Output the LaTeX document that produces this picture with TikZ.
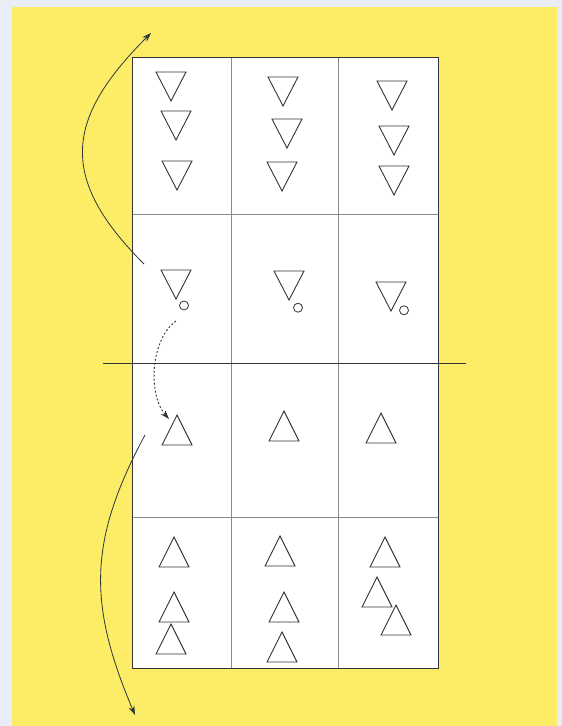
\documentclass[tikz,border=0pt]{standalone}
\usepackage{xcolor}
\usepackage{tikz}
\usetikzlibrary{arrows.meta,calc}
\definecolor{pagegray}{HTML}{E8EDF6}
\definecolor{courtyellow}{HTML}{FCEC66}
\definecolor{linegray}{HTML}{8A8A8A}
\definecolor{darkgray}{HTML}{30343B}
\tikzset{
  field/.style={draw=darkgray,line width=1pt,fill=white},
  gridline/.style={linegray,line width=0.9pt},
  midline/.style={darkgray,line width=1pt},
  player/.style={draw=darkgray,line width=0.9pt,line join=miter},
  ball/.style={circle,draw=darkgray,line width=0.8pt,minimum size=9pt,inner sep=0pt},
  runpath/.style={-{Stealth[length=9pt,width=6pt]},darkgray,line width=0.8pt},
  passpath/.style={-{Stealth[length=9pt,width=6pt]},darkgray,line width=0.9pt,dash pattern=on 2pt off 2pt}
}

\begin{document}
\begin{tikzpicture}[x=1pt,y=-1pt]
  \useasboundingbox (0,0) rectangle (562,726);
  \fill[pagegray] (0,0) rectangle (562,726);
  \fill[courtyellow] (12,7) rectangle (557,726);
  % court
  \draw[field] (132,57) rectangle (438,668);
  \foreach \x in {231,338}
    \draw[gridline] (\x,57) -- (\x,668);
  \foreach \y in {214,517}
    \draw[gridline] (132,\y) -- (438,\y);
  \draw[field,fill=none] (132,57) rectangle (438,668);
  \draw[midline] (103,363) -- (466,363);
  % defending side
  \foreach \x/\y in {171/72,176/111,177/161,283/77,287/119,282/162,392/81,394/126,394/166,176/270,289/271,391/282}
    \draw[player] (\x-15,\y) -- ++(30,0) -- ++(-15,29) -- cycle;
  \node[ball] (ballA) at (184,305.5) {};
  \node[ball] (ballB) at (298,307.7) {};
  \node[ball] (ballC) at (404,310.3) {};
  % serving side
  \foreach \x/\y in {177/415,284/411,381/413,174/537,174/592,171/624,280/536,284/592,282/632,385/537,377/577,396/605}
    \draw[player] (\x,\y) -- ++(15,30) -- ++(-30,0) -- cycle;
  % moves
  \coordinate (topFrom) at (144,264);
  \coordinate (topTo) at (151,33);
  \coordinate (passFrom) at (176,321);
  \coordinate (passTo) at (169,419);
  \coordinate (botFrom) at (145,435);
  \coordinate (botTo) at (135,715);
  \draw[runpath] (topFrom) .. controls (58,178) and (65,119) .. (topTo);
  \draw[passpath] (passFrom) .. controls (150,340) and (148,395) .. (passTo);
  \draw[runpath] (botFrom) .. controls (88,541) and (88,604) .. (botTo);
\end{tikzpicture}
\end{document}
